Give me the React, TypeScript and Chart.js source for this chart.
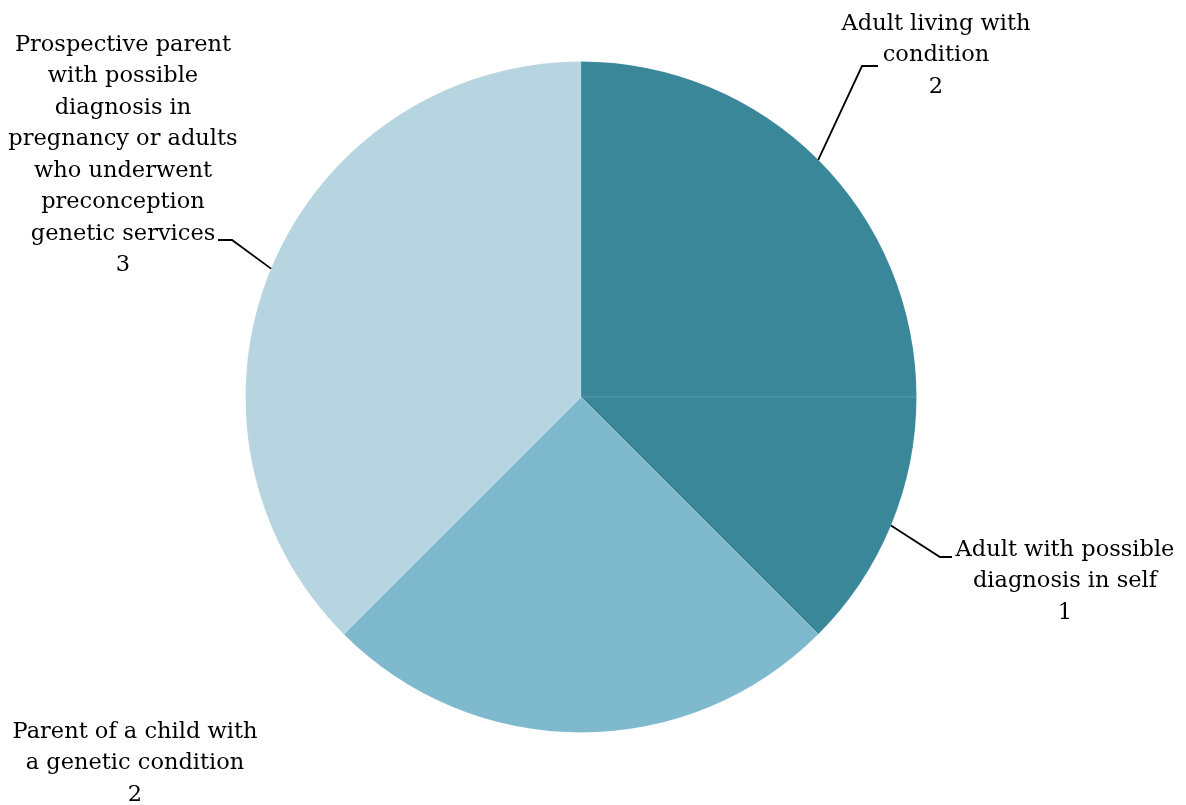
import React, { useEffect, useRef } from "react";
import { Chart, registerables } from "chart.js";

Chart.register(...registerables);

const categories = [
  "Adult living with condition",
  "Adult with possible diagnosis in self",
  "Parent of a child with a genetic condition",
  "Prospective parent with possible diagnosis in pregnancy or adults who underwent preconception genetic services",
];
const values = [2, 1, 2, 3];
const colors = ["#3A8799", "#3A8799", "#7EB9CE", "#B7D5E0"];

// wrapped label lines (presentation)
const labelLines = [
  ["Adult living with", "condition"],
  ["Adult with possible", "diagnosis in self"],
  ["Parent of a child with", "a genetic condition"],
  ["Prospective parent", "with possible", "diagnosis in", "pregnancy or adults", "who underwent", "preconception", "genetic services"],
];

// layout of label boxes: center x, first-line center y, and leader line elbow
const labelLayout = [
  { cx: 936, y0: 24, elbow: [862, 66], end: [878, 66] },
  { cx: 1065, y0: 550, elbow: [940, 557], end: [952, 557] },
  { cx: 135, y0: 732, elbow: null, end: null },
  { cx: 123, y0: 45, elbow: [232, 240], end: [218, 240] },
];

const FONT = "22.5px 'DejaVu Serif'";
const LINE_H = 31.5;

const labelPlugin = {
  id: "pieLabels",
  afterDraw(chart: any) {
    const ctx = chart.ctx;
    const meta = chart.getDatasetMeta(0);
    ctx.save();
    meta.data.forEach((arc: any, i: number) => {
      const lay = labelLayout[i];
      const mid = (arc.startAngle + arc.endAngle) / 2;
      const ax = arc.x + Math.cos(mid) * arc.outerRadius;
      const ay = arc.y + Math.sin(mid) * arc.outerRadius;
      if (lay.elbow && lay.end) {
        ctx.strokeStyle = "#000";
        ctx.lineWidth = 1.8;
        ctx.beginPath();
        ctx.moveTo(ax, ay);
        ctx.lineTo(lay.elbow[0], lay.elbow[1]);
        ctx.lineTo(lay.end[0], lay.end[1]);
        ctx.stroke();
      }
      const lines = [...labelLines[i], String(values[i])];
      ctx.fillStyle = "#000";
      ctx.font = FONT;
      ctx.textAlign = "center";
      ctx.textBaseline = "middle";
      lines.forEach((t, k) => {
        ctx.fillText(t, lay.cx, lay.y0 + k * LINE_H);
      });
    });
    ctx.restore();
  },
};

export default function App() {
  const ref = useRef<HTMLCanvasElement>(null);
  useEffect(() => {
    document.body.style.margin = "0";
    const chart = new Chart(ref.current!, {
      type: "pie",
      data: {
        labels: categories,
        datasets: [
          {
            data: values,
            backgroundColor: colors,
            borderWidth: 1,
            borderColor: "rgba(255,255,255,0.1)",
          },
        ],
      },
      options: {
        responsive: false,
        animation: false,
        layout: { padding: { top: 61, bottom: 72, left: 245, right: 269 } },
        plugins: {
          legend: { display: false },
          tooltip: { enabled: false },
        },
      },
      plugins: [labelPlugin],
    });
    return () => chart.destroy();
  }, []);
  return (
    <div style={{ width: 1186, height: 805, background: "#fff" }}>
      <canvas ref={ref} width={1186} height={805} />
    </div>
  );
}
